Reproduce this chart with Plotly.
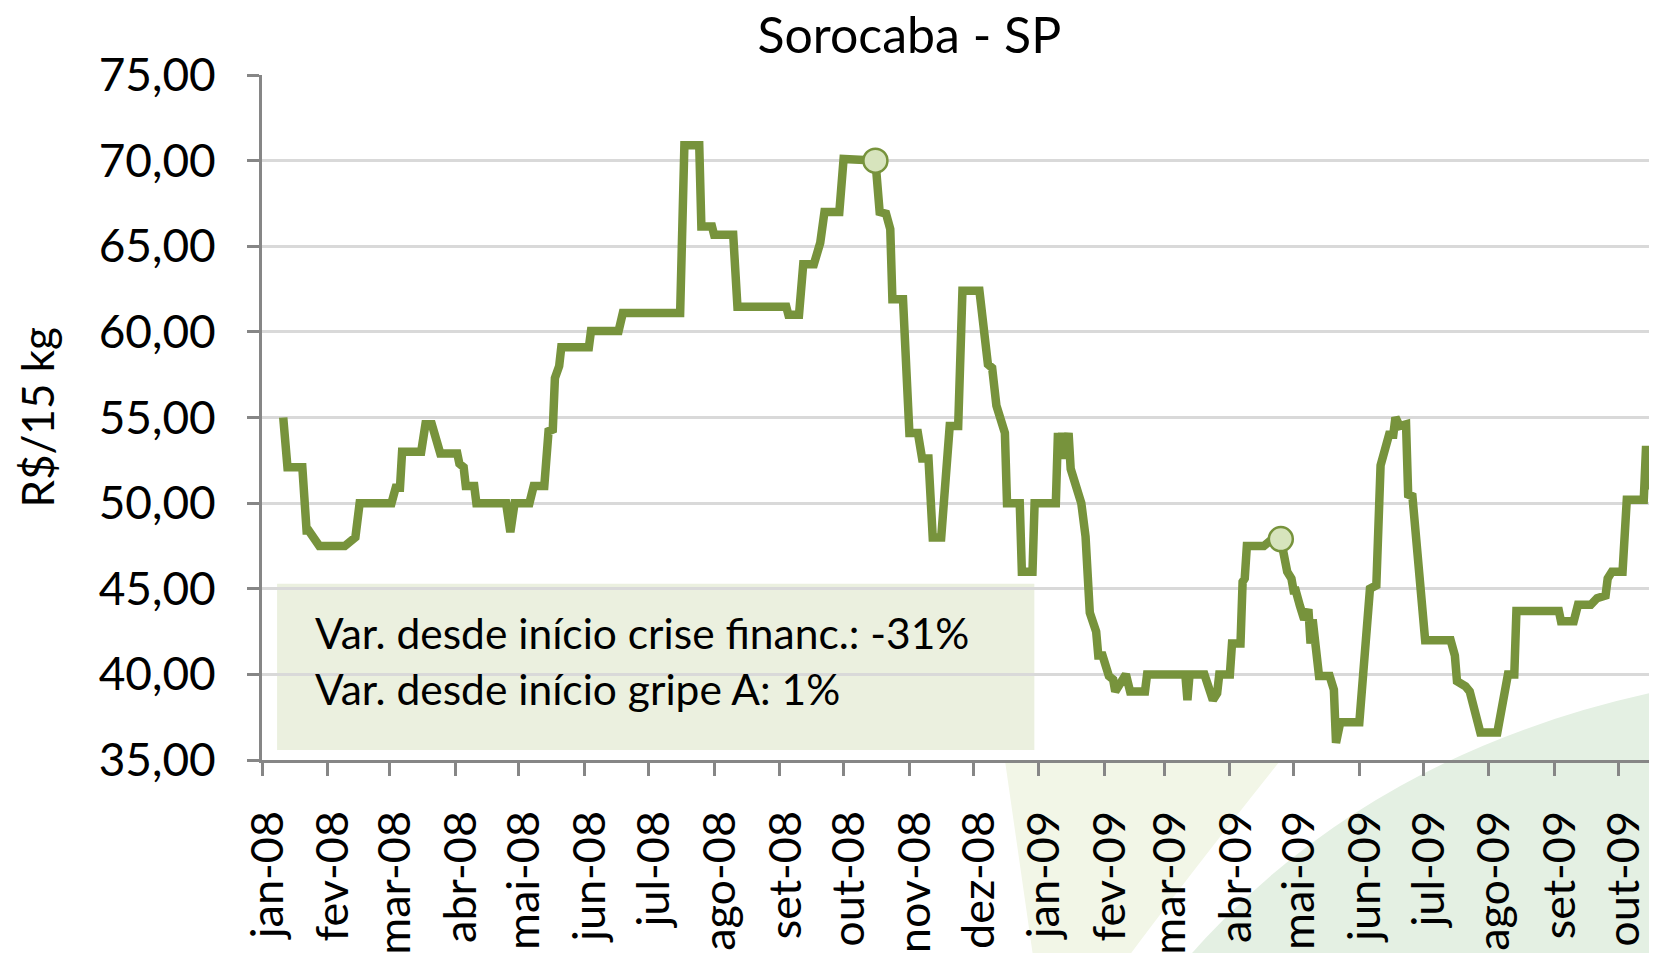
import plotly.graph_objects as go

# ---- data ----
dates = [
    "2008-01-11", "2008-01-12", "2008-01-13", "2008-01-20", "2008-01-22", "2008-01-23",
    "2008-01-28", "2008-02-09", "2008-02-11", "2008-02-14", "2008-02-16", "2008-03-02",
    "2008-03-04", "2008-03-06", "2008-03-07", "2008-03-16", "2008-03-18", "2008-03-21",
    "2008-03-25", "2008-04-02", "2008-04-03", "2008-04-05", "2008-04-06", "2008-04-10",
    "2008-04-11", "2008-04-25", "2008-04-27", "2008-04-29", "2008-05-06", "2008-05-08",
    "2008-05-13", "2008-05-15", "2008-05-17", "2008-05-18", "2008-05-20", "2008-05-21",
    "2008-06-03", "2008-06-04", "2008-06-17", "2008-06-19", "2008-07-16", "2008-07-18",
    "2008-07-25", "2008-07-26", "2008-07-31", "2008-08-01", "2008-08-10", "2008-08-12",
    "2008-09-04", "2008-09-05", "2008-09-10", "2008-09-12", "2008-09-17", "2008-09-19",
    "2008-09-20", "2008-09-22", "2008-09-29", "2008-10-01", "2008-10-16", "2008-10-18",
    "2008-10-21", "2008-10-23", "2008-10-24", "2008-10-29", "2008-10-30", "2008-10-31",
    "2008-11-01", "2008-11-05", "2008-11-07", "2008-11-10", "2008-11-12", "2008-11-16",
    "2008-11-20", "2008-11-24", "2008-11-26", "2008-12-04", "2008-12-05", "2008-12-06",
    "2008-12-08", "2008-12-10", "2008-12-11", "2008-12-12", "2008-12-16", "2008-12-17",
    "2008-12-23", "2008-12-24", "2008-12-29", "2008-12-30",
    "2009-01-09", "2009-01-10", "2009-01-11", "2009-01-12", "2009-01-13", "2009-01-14",
    "2009-01-15", "2009-01-16", "2009-01-21", "2009-01-23", "2009-01-24", "2009-01-25",
    "2009-01-28", "2009-01-29", "2009-01-31", "2009-02-03", "2009-02-05", "2009-02-06",
    "2009-02-11", "2009-02-13", "2009-02-20", "2009-02-21", "2009-03-11", "2009-03-12",
    "2009-03-13", "2009-03-20", "2009-03-24", "2009-03-26", "2009-03-27", "2009-04-01",
    "2009-04-02", "2009-04-06", "2009-04-07", "2009-04-08", "2009-04-09", "2009-04-17",
    "2009-04-21", "2009-04-25", "2009-04-28", "2009-04-30", "2009-05-01", "2009-05-02",
    "2009-05-04", "2009-05-06", "2009-05-08", "2009-05-09", "2009-05-10", "2009-05-11",
    "2009-05-13", "2009-05-18", "2009-05-20", "2009-05-21", "2009-05-23", "2009-06-01",
    "2009-06-04", "2009-06-06", "2009-06-09", "2009-06-10", "2009-06-11", "2009-06-15",
    "2009-06-17", "2009-06-18", "2009-06-20", "2009-06-23", "2009-06-24", "2009-06-26",
    "2009-06-29", "2009-06-30", "2009-07-01", "2009-07-02", "2009-07-14", "2009-07-16",
    "2009-07-17", "2009-07-21", "2009-07-23", "2009-07-28", "2009-08-05", "2009-08-07",
    "2009-08-10", "2009-08-13", "2009-08-14", "2009-09-03", "2009-09-04", "2009-09-10",
    "2009-09-12", "2009-09-18", "2009-09-21", "2009-09-25", "2009-09-26", "2009-09-28",
    "2009-10-03", "2009-10-05", "2009-10-13", "2009-10-14", "2009-10-15", "2009-10-17",
    "2009-10-24",
]
prices = [
    55.0, 53.9, 52.1, 52.1, 48.4, 48.4,
    47.5, 47.5, 47.7, 48.0, 50.0, 50.0,
    50.9, 50.9, 53.0, 53.0, 54.6, 54.6,
    52.9, 52.9, 52.3, 52.1, 51.0, 51.0,
    50.0, 50.0, 48.3, 50.0, 50.0, 51.0,
    51.0, 54.2, 54.3, 57.3, 58.0, 59.1,
    59.1, 60.05, 60.05, 61.1, 61.1, 70.9,
    70.9, 66.15, 66.15, 65.67, 65.67, 61.47,
    61.47, 61.0, 61.0, 63.95, 63.95, 65.0,
    65.2, 67.0, 67.0, 70.1, 70.0, 67.0,
    66.9, 66.0, 61.9, 61.9, 59.0, 58.0,
    54.1, 54.1, 52.6, 52.6, 48.0, 48.0,
    54.5, 54.5, 62.4, 62.4, 61.1, 59.9,
    58.1, 57.9, 56.0, 55.7, 54.1, 50.0,
    50.0, 46.0, 46.0, 50.0,
    50.0, 54.1, 52.6, 54.1, 52.6, 54.1,
    54.1, 52.0, 50.0, 48.05, 45.6, 43.6,
    42.5, 41.1, 41.1, 39.9, 39.7, 39.0,
    40.0, 39.0, 39.0, 40.0, 40.0, 38.5,
    40.0, 40.0, 38.5, 38.9, 40.0, 40.0,
    41.8, 41.8, 45.4, 45.6, 47.5, 47.5,
    47.9, 47.9, 46.0, 45.6, 44.9, 44.9,
    44.0, 43.2, 43.8, 41.8, 43.2, 42.0,
    39.9, 39.9, 39.1, 36.0, 37.2, 37.2,
    41.1, 45.0, 45.2, 51.9, 52.2, 54.0,
    54.0, 55.0, 54.5, 54.6, 50.5, 50.4,
    46.5, 44.9, 43.1, 42.0, 42.0, 41.1,
    39.6, 39.3, 39.0, 36.6, 36.6, 38.2,
    40.0, 40.0, 43.7, 43.7, 43.1, 43.1,
    44.06, 44.06, 44.45, 44.6, 45.6, 46.0,
    46.0, 50.2, 50.2, 53.1, 53.1, 51.05,
    51.05,
]
event_dates = ["2008-10-16", "2009-04-25"]
event_prices = [70.0, 47.9]

month_ticks = [
    "2008-01-01", "2008-02-01", "2008-03-01", "2008-04-01", "2008-05-01", "2008-06-01",
    "2008-07-01", "2008-08-01", "2008-09-01", "2008-10-01", "2008-11-01", "2008-12-01",
    "2009-01-01", "2009-02-01", "2009-03-01", "2009-04-01", "2009-05-01", "2009-06-01",
    "2009-07-01", "2009-08-01", "2009-09-01", "2009-10-01",
]
month_labels = [
    "jan-08", "fev-08", "mar-08", "abr-08", "mai-08", "jun-08", "jul-08", "ago-08",
    "set-08", "out-08", "nov-08", "dez-08", "jan-09", "fev-09", "mar-09", "abr-09",
    "mai-09", "jun-09", "jul-09", "ago-09", "set-09", "out-09",
]
title_text = "Sorocaba - SP"
y_title = "R$/15 kg"
note_lines = ["Var. desde início crise financ.: -31%", "Var. desde início gripe A: 1%"]

FONT = "Lato, Carlito, 'Open Sans', sans-serif"
LINE_GREEN = "#77933C"
AXIS_GREY = "#868686"

fig = go.Figure()
fig.add_trace(go.Scatter(
    x=dates, y=prices, mode="lines",
    line=dict(color=LINE_GREEN, width=8.5),
    hoverinfo="skip", showlegend=False,
))
fig.add_trace(go.Scatter(
    x=event_dates, y=event_prices, mode="markers",
    marker=dict(size=24, color="#D7E4BD", line=dict(color=LINE_GREEN, width=2.5)),
    hoverinfo="skip", showlegend=False,
))

shapes = [
    # faint watermark swooshes (beige and green) at the lower right
    dict(type="path", xref="paper", yref="paper", layer="below",
         path="M 0.5297,-0.003 L 0.725,-0.003 Q 0.66,-0.17 0.6129,-0.30 L 0.5505,-0.30 Z",
         fillcolor="#F2F6E7", line=dict(width=0)),
    dict(type="path", xref="paper", yref="paper", layer="below",
         path="M 0.655,-0.30 Q 0.785,0.0114 1.0,0.1023 L 1.0,-0.30 Z",
         fillcolor="#E4F0E3", line=dict(width=0)),
    # annotation box
    dict(type="rect", xref="paper", yref="paper", layer="between",
         x0=0.01075, x1=0.5505, y0=0.0146, y1=0.2573,
         fillcolor="#EBF0DF", line=dict(width=0)),
]

annotations = [
    dict(text=y_title, textangle=-90, xref="paper", yref="paper", x=-0.161, y=0.5,
         xanchor="center", yanchor="middle", showarrow=False,
         font=dict(family=FONT, size=44, color="black")),
    dict(text=note_lines[0], xref="paper", yref="paper", x=0.036, y=0.1855,
         xanchor="left", yanchor="middle", showarrow=False,
         font=dict(family=FONT, size=42.5, color="black")),
    dict(text=note_lines[1], xref="paper", yref="paper", x=0.036, y=0.1045,
         xanchor="left", yanchor="middle", showarrow=False,
         font=dict(family=FONT, size=42.5, color="black")),
]

fig.update_layout(
    width=1657, height=953,
    margin=dict(l=254, r=0, t=67, b=201, pad=0, autoexpand=False),
    paper_bgcolor="white", plot_bgcolor="rgba(0,0,0,0)",
    separators=",.",
    font=dict(family=FONT, color="black"),
    title=dict(text=title_text, x=0.544, xref="container", xanchor="center",
               y=0.9715, yref="container", yanchor="middle",
               font=dict(family=FONT, size=50, color="black")),
    shapes=shapes, annotations=annotations, showlegend=False,
)
fig.update_xaxes(
    type="date", range=["2008-01-01", "2009-10-23"], automargin=False,
    tickmode="array", tickvals=month_ticks, ticktext=month_labels, tickangle=-90,
    ticks="outside", ticklen=13, tickwidth=3, tickcolor=AXIS_GREY,
    showline=True, linecolor=AXIS_GREY, linewidth=3,
    showgrid=False, zeroline=False,
    tickfont=dict(family=FONT, size=45, color="black"),
    ticklabelstandoff=17, ticklabelshift=6,
)
fig.update_yaxes(
    range=[35, 75], tick0=35, dtick=5, tickformat=".2f", automargin=False,
    ticks="outside", ticklen=12, tickwidth=3, tickcolor=AXIS_GREY,
    showline=True, linecolor=AXIS_GREY, linewidth=3,
    showgrid=True, gridcolor="#D9D9D9", gridwidth=3, zeroline=False,
    tickfont=dict(family=FONT, size=46, color="black"),
    ticklabelstandoff=22,
)

fig.write_html("out.html")
